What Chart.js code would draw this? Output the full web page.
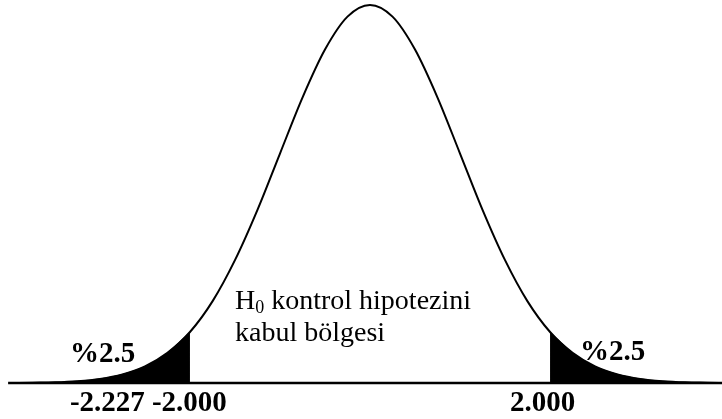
<!DOCTYPE html>
<html>
<head>
<meta charset="utf-8">
<script src="https://cdn.jsdelivr.net/npm/chart.js@4"></script>
<style>
    body { margin: 0; background: #fff; }
    #wrap { width: 722px; height: 419px; }
</style>
</head>
<body>
<div id="wrap"><canvas id="chart-curve" width="722" height="419"></canvas></div>
<script>
// z values along the axis and the curve height at each (peak = 1)
const zValues = [-4.0, -3.75, -3.5, -3.25, -3.0, -2.75, -2.5, -2.25, -2.0, -1.75, -1.5, -1.25, -1.0, -0.75, -0.5, -0.25,
    0, 0.25, 0.5, 0.75, 1.0, 1.25, 1.5, 1.75, 2.0, 2.25, 2.5, 2.75, 3.0, 3.25, 3.5, 3.75, 4.0];
const curveHeights = [0, 0.001, 0.002, 0.005, 0.011, 0.023, 0.044, 0.08, 0.135, 0.216, 0.325, 0.458, 0.607, 0.755, 0.882, 0.969,
    1.0, 0.969, 0.882, 0.755, 0.607, 0.458, 0.325, 0.216, 0.135, 0.08, 0.044, 0.023, 0.011, 0.005, 0.002, 0.001, 0];

// rejection limits (shaded tails)
const lowerLimit = -2.0;
const upperLimit = 2.0;

const tailLabels = ["%2.5", "%2.5"];
const tickLabels = ["-2.227", "-2.000", "2.000"];
const regionLabel = ["H", "0", " kontrol hipotezini", "kabul bölgesi"];

const X_MIN = -4.11, X_MAX = 3.91;

function points(filter) {
    const out = [];
    zValues.forEach((z, i) => {
        if (filter(z)) out.push({ x: z, y: curveHeights[i] });
    });
    return out;
}

const serif = '"Liberation Serif", "Times New Roman", serif';

const labelsPlugin = {
    id: "labels",
    afterDatasetsDraw(chart) {
        const ctx = chart.ctx;
        const xs = chart.scales.x, ys = chart.scales.y;
        const px = v => xs.getPixelForValue(v);
        const py = v => ys.getPixelForValue(v);

        ctx.save();
        ctx.fillStyle = "#000";
        ctx.textBaseline = "alphabetic";
        ctx.textAlign = "left";

        // tail percentages
        ctx.font = "bold 29px " + serif;
        ctx.fillText(tailLabels[0], px(-3.333), py(0.056));
        ctx.fillText(tailLabels[1], px(2.333), py(0.061));

        // limits under the axis
        ctx.fillText(tickLabels[0], px(-3.333), py(-0.074));
        ctx.fillText(tickLabels[1], px(-2.422), py(-0.074));
        ctx.fillText(tickLabels[2], px(1.556), py(-0.074));

        // acceptance region text
        ctx.font = "28px " + serif;
        let x = px(-1.5);
        const y1 = py(0.195);
        ctx.fillText(regionLabel[0], x, y1);
        x += ctx.measureText(regionLabel[0]).width;
        ctx.font = "18px " + serif;
        ctx.fillText(regionLabel[1], x, y1 + 4);
        x += ctx.measureText(regionLabel[1]).width;
        ctx.font = "28px " + serif;
        ctx.fillText(regionLabel[2], x, y1);
        ctx.fillText(regionLabel[3], px(-1.5), py(0.111));
        ctx.restore();
    }
};

new Chart(document.getElementById("chart-curve").getContext("2d"), {
    type: "line",
    data: {
        datasets: [
            {
                // bell curve
                data: points(() => true),
                borderColor: "#000",
                borderWidth: 2,
                pointRadius: 0,
                cubicInterpolationMode: "monotone",
                fill: false
            },
            {
                // left tail
                data: points(z => z <= lowerLimit),
                borderColor: "#000",
                borderWidth: 1,
                backgroundColor: "#000",
                pointRadius: 0,
                cubicInterpolationMode: "monotone",
                fill: "origin"
            },
            {
                // right tail
                data: points(z => z >= upperLimit),
                borderColor: "#000",
                borderWidth: 1,
                backgroundColor: "#000",
                pointRadius: 0,
                cubicInterpolationMode: "monotone",
                fill: "origin"
            },
            {
                // horizontal axis
                data: [{ x: -4.02, y: 0 }, { x: X_MAX, y: 0 }],
                borderColor: "#000",
                borderWidth: 2.5,
                pointRadius: 0,
                fill: false
            }
        ]
    },
    options: {
        responsive: false,
        animation: false,
        devicePixelRatio: 1,
        layout: { padding: 0 },
        scales: {
            x: { type: "linear", min: X_MIN, max: X_MAX, display: false },
            y: { type: "linear", min: -0.095, max: 1.013, display: false }
        },
        plugins: {
            legend: { display: false },
            tooltip: { enabled: false }
        }
    },
    plugins: [labelsPlugin]
});
</script>
</body>
</html>
